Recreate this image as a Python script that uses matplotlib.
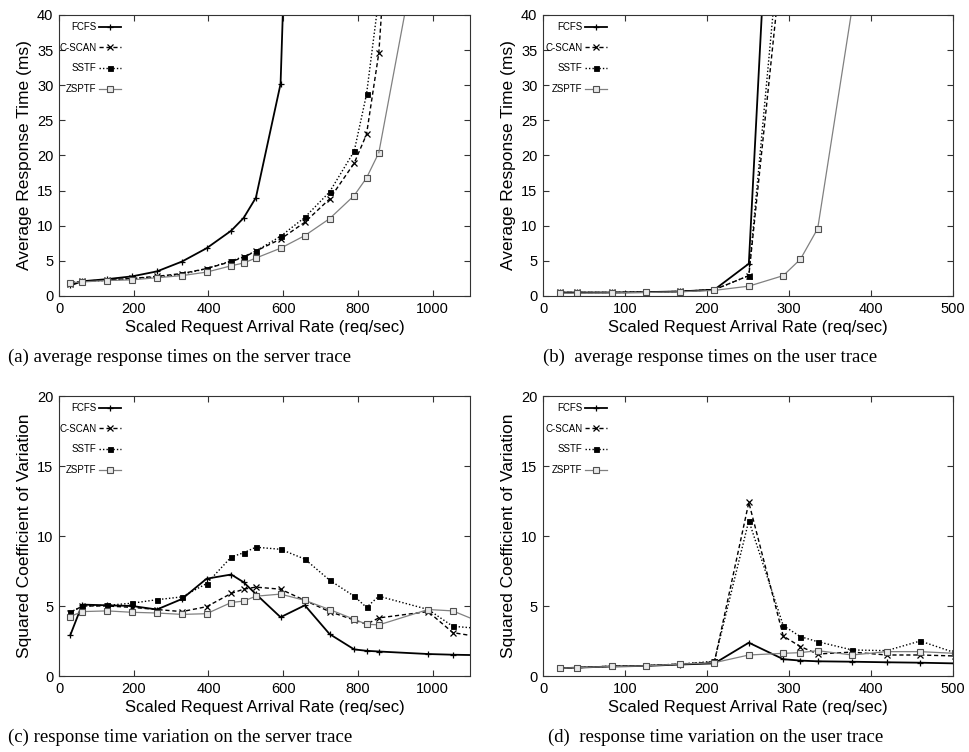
import matplotlib
matplotlib.use("Agg")
import matplotlib.pyplot as plt

plt.rcParams['font.family'] = ['Liberation Sans', 'DejaVu Sans']

# ---------------- data ----------------
series_names = ["FCFS", "C-SCAN", "SSTF", "ZSPTF"]

# server trace arrival rates (req/sec)
x_server = [30, 62, 129, 196, 262, 329, 395, 461, 494, 527, 593, 658,
            724, 790, 823, 856, 889, 988, 1054, 1119]
# user trace arrival rates (req/sec)
x_user = [21, 42, 84, 125, 167, 209, 251, 293, 314, 335, 377, 419, 460, 502]

# (a) average response time, server trace (ms)
a_fcfs = [1.5, 2.1, 2.4, 2.8, 3.5, 4.9, 6.8, 9.3, 11.1, 14.0, 30.2, 138]
a_cscan = [1.7, 2.1, 2.3, 2.5, 2.8, 3.2, 3.9, 4.9, 5.5, 6.4, 8.1, 10.5,
           13.8, 18.9, 23.0, 34.6, 61]
a_sstf = [1.9, 2.1, 2.2, 2.5, 2.7, 3.1, 3.9, 5.0, 5.6, 6.4, 8.5, 11.2,
          14.8, 20.6, 28.7, 42.5]
a_zsptf = [1.9, 2.0, 2.2, 2.3, 2.6, 2.9, 3.4, 4.3, 4.7, 5.4, 6.8, 8.6,
           11.0, 14.3, 16.8, 20.4]
a_zsptf_x_last = 988
a_zsptf_last = 58

# (b) average response time, user trace (ms)
b_fcfs = [0.5, 0.5, 0.5, 0.55, 0.65, 0.9, 4.6, 99]
b_cscan = [0.5, 0.5, 0.5, 0.55, 0.65, 0.9, 2.9, 50]
b_sstf = [0.5, 0.5, 0.5, 0.55, 0.65, 0.9, 2.9, 56]
b_zsptf = [0.4, 0.4, 0.45, 0.5, 0.6, 0.8, 1.4, 2.9, 5.25, 9.6, 41]

# (c) squared coefficient of variation, server trace
x_server_c = [30, 62, 129, 196, 262, 329, 395, 461, 494, 527, 593, 658,
              724, 790, 823, 856, 988, 1054, 1119]
c_fcfs = [2.9, 5.1, 5.05, 5.0, 4.75, 5.5, 6.95, 7.25, 6.7, 5.85, 4.2, 5.05,
          3.0, 1.9, 1.8, 1.75, 1.57, 1.52, 1.49]
c_cscan = [4.5, 5.0, 5.0, 4.9, 4.75, 4.6, 4.95, 5.9, 6.2, 6.35, 6.2, 5.4,
           4.6, 4.0, 3.7, 4.15, 4.6, 3.1, 2.82]
c_sstf = [4.55, 5.0, 5.05, 5.2, 5.45, 5.65, 6.6, 8.5, 8.8, 9.2, 9.05, 8.35,
          6.85, 5.7, 4.9, 5.7, 4.75, 3.55, 3.41]
c_zsptf = [4.25, 4.6, 4.65, 4.55, 4.5, 4.4, 4.45, 5.25, 5.35, 5.7, 5.85, 5.4,
           4.75, 4.05, 3.7, 3.65, 4.75, 4.65, 3.94]

# (d) squared coefficient of variation, user trace
d_fcfs = [0.55, 0.6, 0.68, 0.72, 0.82, 0.9, 2.38, 1.2, 1.1, 1.05, 1.02, 0.98, 0.95, 0.9]
d_cscan = [0.55, 0.6, 0.7, 0.74, 0.85, 1.0, 12.4, 2.85, 2.1, 1.57, 1.71, 1.5, 1.5, 1.43]
d_sstf = [0.55, 0.6, 0.7, 0.74, 0.85, 1.05, 11.1, 3.6, 2.81, 2.45, 1.86, 1.81, 2.5, 1.67]
d_zsptf = [0.55, 0.6, 0.68, 0.72, 0.85, 0.95, 1.5, 1.62, 1.67, 1.81, 1.5, 1.74, 1.74, 1.62]

xlabel = "Scaled Request Arrival Rate (req/sec)"
captions = ["(a) average response times on the server trace",
            "(b)  average response times on the user trace",
            "(c) response time variation on the server trace",
            "(d)  response time variation on the user trace"]

# ---------------- styles ----------------
styles = {
    "FCFS": dict(color="black", lw=1.3, ls="-", marker="+", ms=5, mew=0.9),
    "C-SCAN": dict(color="black", lw=1.0, ls=(0, (3, 2)), marker="x", ms=4, mew=0.9),
    "SSTF": dict(color="black", lw=1.0, ls=(0, (1, 1.5)), marker="s", ms=3.6,
                 mfc="black", mew=0.6),
    "ZSPTF": dict(color="#808080", lw=0.9, ls="-", marker="s", ms=4.6,
                  mfc="#e8e8e8", mec="#505050", mew=0.8),
}

W, H = 969, 752
fig = plt.figure(figsize=(W / 100, H / 100), dpi=100)


def add_ax(left, top, right, bottom):
    return fig.add_axes([left / W, 1 - bottom / H, (right - left) / W, (bottom - top) / H])


ax_a = add_ax(59, 15, 470, 296)
ax_b = add_ax(543, 15, 953, 296)
ax_c = add_ax(59, 396, 470, 676)
ax_d = add_ax(543, 396, 953, 676)


def style_axes(ax, xmax, xstep, ymax, ystep, ylabel):
    ax.set_xlim(0, xmax)
    ax.set_ylim(0, ymax)
    ax.set_xticks(range(0, xmax + 1, xstep))
    ax.set_yticks(range(0, ymax + 1, ystep))
    ax.tick_params(direction="in", top=True, right=True, length=4, width=0.8,
                   labelsize=10.5, pad=4, colors="#333333", labelcolor="black")
    for s in ax.spines.values():
        s.set_linewidth(0.8)
        s.set_color("#333333")
    ax.set_xlabel(xlabel, fontsize=12, labelpad=3)
    ax.set_ylabel(ylabel, fontsize=12.5, labelpad=4)


def draw(ax, xs, ys_list, legend_x):
    handles = []
    for name, ys in zip(series_names, ys_list):
        h, = ax.plot(xs[:len(ys)], ys, label=name, **styles[name])
        handles.append(h)
    leg = ax.legend(handles=handles, loc="upper left", bbox_to_anchor=(legend_x, 0.975),
                    frameon=False, markerfirst=False, fontsize=7, handlelength=2.3,
                    handletextpad=0.25, labelspacing=1.1, borderpad=0, borderaxespad=0)
    return leg


style_axes(ax_a, 1100, 200, 40, 5, "Average Response Time (ms)")
draw(ax_a, x_server, [a_fcfs, a_cscan, a_sstf, a_zsptf], 0.0)
ax_a.plot([x_server[15], a_zsptf_x_last], [a_zsptf[-1], a_zsptf_last], **{**styles["ZSPTF"], "marker": None})

style_axes(ax_b, 500, 100, 40, 5, "Average Response Time (ms)")
draw(ax_b, x_user, [b_fcfs, b_cscan, b_sstf, b_zsptf], 0.005)

style_axes(ax_c, 1100, 200, 20, 5, "Squared Coefficient of Variation")
draw(ax_c, x_server_c, [c_fcfs, c_cscan, c_sstf, c_zsptf], 0.0)

style_axes(ax_d, 500, 100, 20, 5, "Squared Coefficient of Variation")
draw(ax_d, x_user, [d_fcfs, d_cscan, d_sstf, d_zsptf], 0.005)

cap_pos = [(8, 357), (543, 357), (8, 737), (548, 737)]
for (cx, cy), txt in zip(cap_pos, captions):
    fig.text(cx / W, 1 - cy / H, txt, ha="left", va="center",
             family="Liberation Serif", fontsize=13.5)

fig.savefig("out.png", dpi=100)
